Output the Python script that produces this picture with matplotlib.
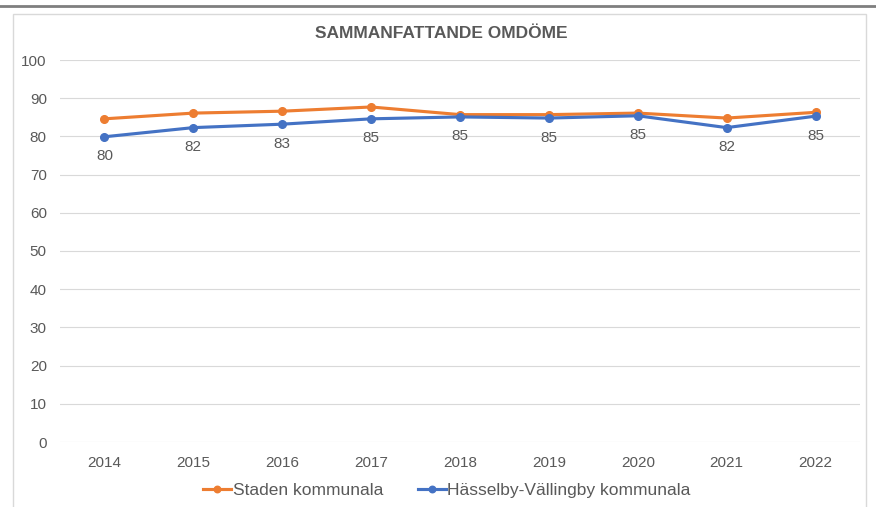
import matplotlib
matplotlib.use("Agg")
import matplotlib.pyplot as plt
from matplotlib.patches import Rectangle
from matplotlib.lines import Line2D

years = ["2014", "2015", "2016", "2017", "2018", "2019", "2020", "2021", "2022"]
staden = [84.6, 86.1, 86.6, 87.7, 85.7, 85.7, 86.1, 84.8, 86.3]
hasselby = [79.9, 82.3, 83.2, 84.6, 85.1, 84.8, 85.4, 82.3, 85.3]
hasselby_labels = ["80", "82", "83", "85", "85", "85", "85", "82", "85"]

plt.rcParams['font.family'] = ['Liberation Sans', 'DejaVu Sans']
TXT = '#595959'
ORANGE = '#ED7D31'
BLUE = '#4472C4'

fig = plt.figure(figsize=(8.76, 5.07), dpi=100)
W, H = 876, 507

# top dark rule
fig.add_artist(Line2D([0, 1], [1 - 5.5 / H, 1 - 5.5 / H], color='#7f7f7f', lw=2, transform=fig.transFigure))
# chart frame
fig.add_artist(Rectangle((13 / W, -0.01), (866 - 13) / W, 1 - 14 / H + 0.01,
                         transform=fig.transFigure, fill=False, edgecolor='#d9d9d9', lw=1))

ax = fig.add_axes([60 / W, 1 - 442 / H, 800 / W, (442 - 60) / H])
x = list(range(len(years)))
ax.plot(x, staden, color=ORANGE, lw=2.25, marker='o', ms=5.5, label='Staden kommunala', zorder=3)
ax.plot(x, hasselby, color=BLUE, lw=2.25, marker='o', ms=5.5, label='Hässelby-Vällingby kommunala', zorder=4)

for xi, yi, lab in zip(x, hasselby, hasselby_labels):
    ax.annotate(lab, (xi, yi), xytext=(0, -14), textcoords='offset points',
                ha='center', va='center', fontsize=11, color=TXT)

ax.set_xlim(-0.5, len(years) - 0.5)
ax.set_ylim(0, 100)
ax.set_yticks(range(0, 101, 10))
ax.set_xticks(x)
ax.set_xticklabels(years)
ax.tick_params(axis='both', length=0, labelsize=11, colors=TXT)
ax.tick_params(axis='y', pad=9.5)
ax.tick_params(axis='x', pad=10)
ax.grid(axis='y', color='#d9d9d9', lw=0.8)
ax.set_axisbelow(True)
for s in ax.spines.values():
    s.set_visible(False)

fig.text(0.5 * (13 + 866) / W + 2 / W, 1 - 33 / H, 'SAMMANFATTANDE OMDÖME', ha='center', va='center',
         fontsize=12.5, fontweight='bold', color=TXT)

fig.legend(loc='center', bbox_to_anchor=(447 / W, 1 - 490 / H), ncol=2, frameon=False,
           fontsize=12.5, labelcolor=TXT, handlelength=1.6, handletextpad=0.1, columnspacing=2.0,
           markerscale=0.85)

fig.savefig('out.png', dpi=100)
